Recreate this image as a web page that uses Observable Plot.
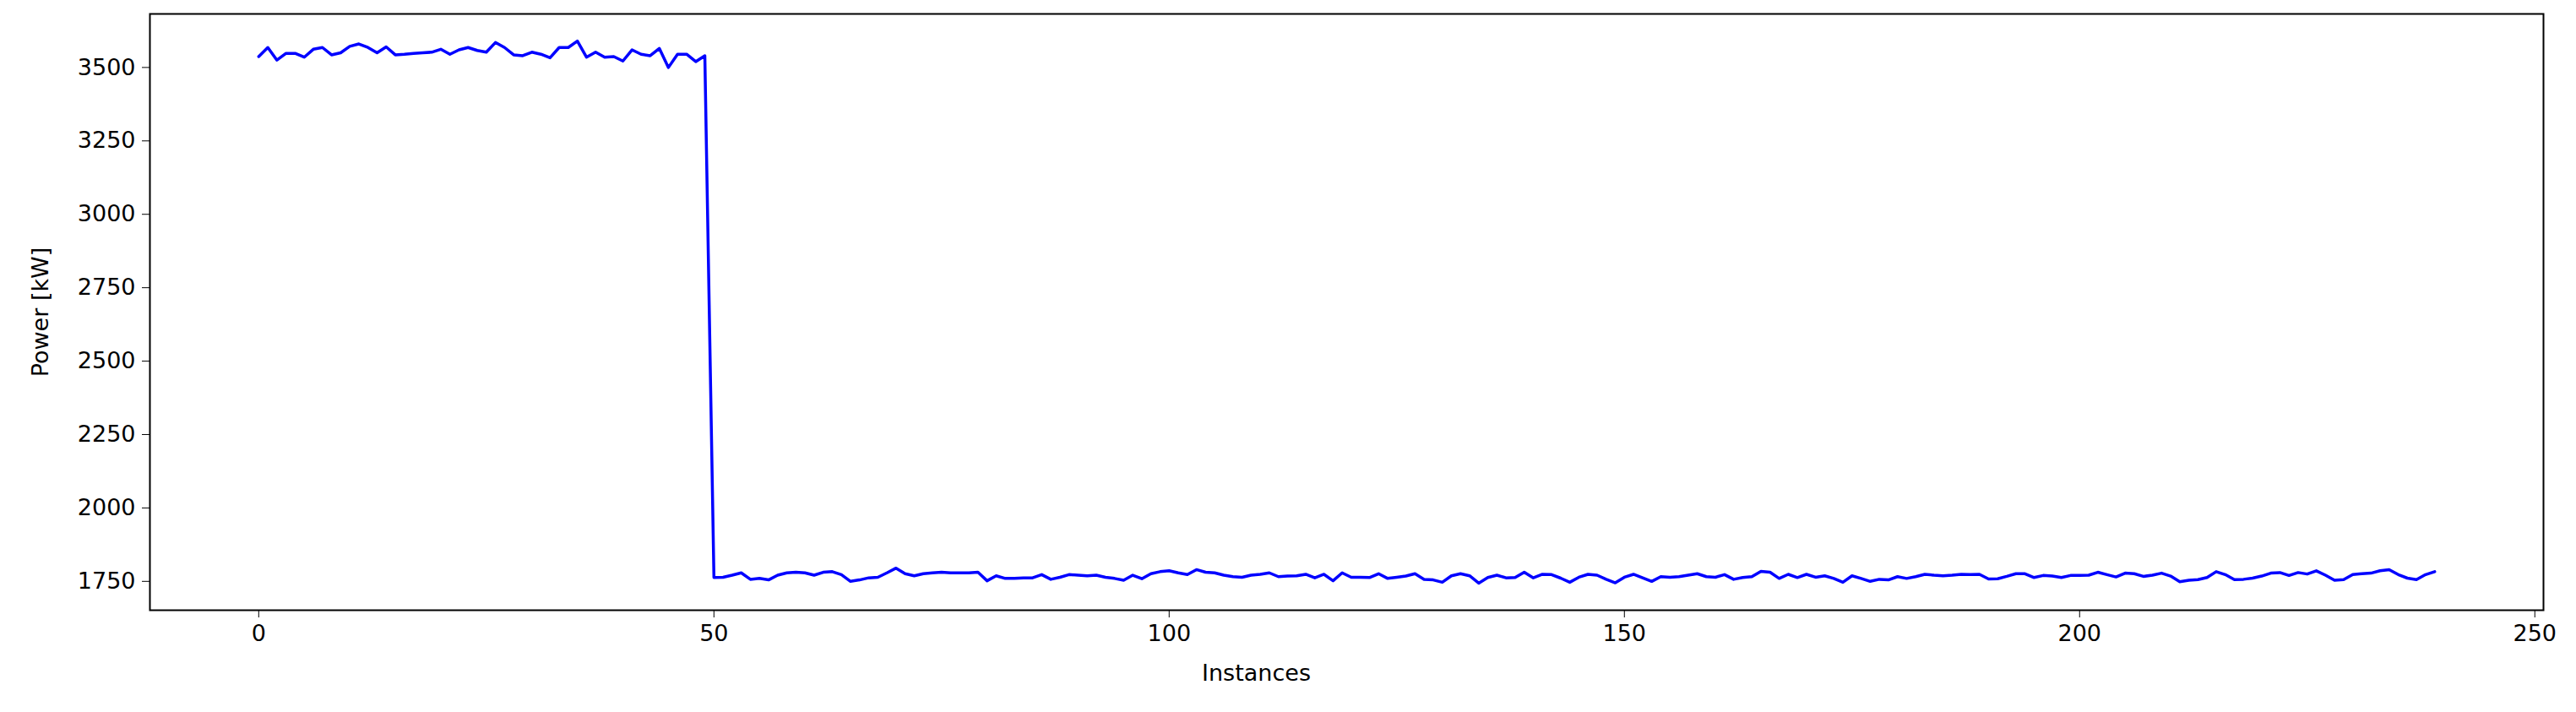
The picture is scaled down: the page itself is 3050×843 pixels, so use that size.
<!DOCTYPE html>
<html>
<head>
<meta charset="utf-8">
<script src="https://cdn.jsdelivr.net/npm/d3@7"></script>
<script src="https://cdn.jsdelivr.net/npm/@observablehq/plot@0.6"></script>
<style>
  html, body { margin: 0; padding: 0; background: #fff; }
  #chart { width: 3050px; height: 843px; }
</style>
</head>
<body>
<div id="chart"></div>
<script>
// Power readings before the drop (instances 0–49)
const powerHigh = [
  3537, 3568, 3525, 3548, 3548, 3535, 3562, 3568, 3543, 3550,
  3572, 3580, 3568, 3550, 3570, 3543, 3545, 3548, 3550, 3552,
  3562, 3545, 3560, 3568, 3558, 3552, 3585, 3568, 3543, 3540,
  3552, 3545, 3533, 3568, 3568, 3590, 3535, 3552, 3535, 3537,
  3522, 3560, 3545, 3540, 3565, 3500, 3545, 3545, 3520, 3540
];
// Power readings after the drop (instances 50–239)
const powerLow = [
  1763, 1764, 1771, 1779, 1757, 1760, 1755, 1771, 1779, 1781,
  1779, 1771, 1781, 1783, 1773, 1750, 1755, 1762, 1764, 1779,
  1795, 1776, 1769, 1776, 1779, 1781, 1779, 1779, 1779, 1781,
  1752, 1769, 1760, 1760, 1762, 1762, 1773, 1757, 1764, 1773,
  1771, 1769, 1771, 1764, 1760, 1754, 1771, 1759, 1776, 1783,
  1786, 1779, 1773, 1790, 1781, 1779, 1771, 1766, 1764, 1771,
  1774, 1779, 1766, 1768, 1769, 1774, 1762, 1774, 1752, 1779,
  1764, 1764, 1763, 1776, 1760, 1764, 1768, 1776, 1757, 1755,
  1747, 1769, 1776, 1769, 1744, 1763, 1771, 1762, 1763, 1781,
  1762, 1774, 1773, 1761, 1747, 1764, 1774, 1771, 1757, 1745,
  1764, 1774, 1762, 1750, 1766, 1764, 1766, 1771, 1776, 1766,
  1764, 1773, 1757, 1763, 1766, 1784, 1781, 1760, 1774, 1763,
  1774, 1764, 1769, 1760, 1747, 1769, 1760, 1750, 1757, 1755,
  1766, 1760, 1766, 1774, 1771, 1769, 1771, 1774, 1773, 1774,
  1758, 1759, 1767, 1776, 1776, 1763, 1770, 1768, 1763, 1770,
  1770, 1771, 1781, 1773, 1765, 1778, 1776, 1767, 1771, 1778,
  1768, 1749, 1754, 1756, 1763, 1783, 1773, 1756, 1757, 1761,
  1768, 1778, 1780, 1770, 1780, 1775, 1786, 1771, 1754, 1756,
  1773, 1776, 1778, 1786, 1790, 1773, 1761, 1756, 1773, 1783
];
const xTicks = [0, 50, 100, 150, 200, 250];
const yTicks = [1750, 2000, 2250, 2500, 2750, 3000, 3250, 3500];
const xLabel = "Instances";
const yLabel = "Power [kW]";

const power = powerHigh.concat(powerLow);
const data = power.map((p, i) => ({instance: i, power: p}));

const xMin = 0, xMax = data.length - 1;
const xPad = (xMax - xMin) * 0.05;
const yLo = d3.min(power), yHi = d3.max(power);
const yPad = (yHi - yLo) * 0.05;

const chart = Plot.plot({
  width: 3050,
  height: 843,
  marginLeft: 177,
  marginRight: 39,
  marginTop: 16,
  marginBottom: 121,
  style: {fontFamily: "DejaVu Sans", fontSize: "27px", color: "#000", background: "#fff"},
  x: {domain: [xMin - xPad, xMax + xPad]},
  y: {domain: [yLo - yPad, yHi + yPad]},
  marks: [
    Plot.line(data, {x: "instance", y: "power", stroke: "#0000ff", strokeWidth: 3.5}),
    Plot.frame({stroke: "#000", strokeWidth: 2}),
    Plot.axisX({ticks: xTicks, tickSize: 9, tickPadding: 8, tickFormat: d => String(d),
      label: null, fontSize: 27}),
    Plot.text([xLabel], {frameAnchor: "bottom", dx: -107, dy: 75, lineAnchor: "middle",
      fontSize: 27, fill: "#000"}),
    Plot.axisY({ticks: yTicks, tickSize: 9, tickPadding: 8, tickFormat: d => String(d),
      label: yLabel, labelAnchor: "center", labelArrow: "none", labelOffset: 140, fontSize: 27})
  ]
});
document.getElementById("chart").appendChild(chart);
</script>
</body>
</html>
